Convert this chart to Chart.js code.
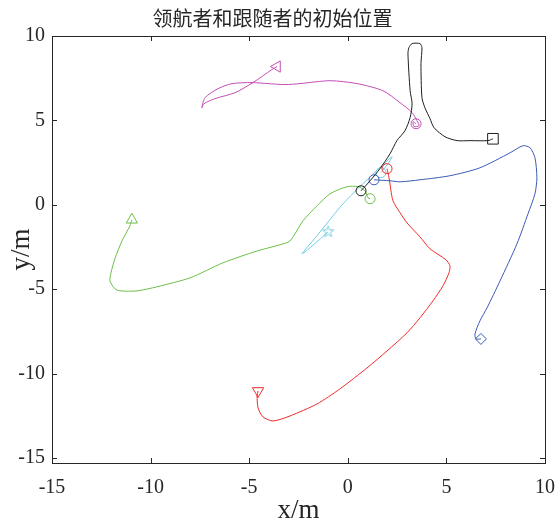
<!DOCTYPE html>
<html lang="zh">
<head>
  <meta charset="UTF-8">
  <title>领航者和跟随者的初始位置</title>
  <script src="https://cdn.jsdelivr.net/npm/chart.js"></script>
  <style>
    body { margin: 0; background: #fff; }
    canvas { display: block; }
  </style>
</head>
<body>
  <canvas id="trackChart" width="560" height="522"></canvas>
  <script>
    // axis ticks
    const xTicks = [-15, -10, -5, 0, 5, 10];
    const yTicks = [-15, -10, -5, 0, 5, 10];

    // trajectories, first point = start marker, last point = circle
    const pathBlack = [[7.36, 3.91], [7.11, 3.80], [6.20, 3.80], [5.54, 3.80], [4.93, 4.03], [4.37, 4.57],
      [4.17, 5.10], [3.91, 5.75], [3.76, 6.35], [3.71, 8.36], [3.76, 9.31], [3.66, 9.55], [3.26, 9.55],
      [3.10, 9.31], [3.05, 8.96], [3.16, 6.76], [3.26, 5.99], [3.16, 5.16], [2.90, 4.39], [2.49, 3.80],
      [2.14, 3.02], [1.63, 2.14], [1.13, 1.42], [0.67, 0.83]];
    const pathMagenta = [[-3.59, 8.19], [-3.85, 8.01], [-4.81, 7.24], [-5.72, 6.64], [-6.73, 6.29],
      [-7.29, 5.99], [-7.40, 5.75], [-7.24, 6.35], [-6.58, 6.88], [-5.87, 7.18], [-4.86, 7.24],
      [-4.05, 7.18], [-3.18, 7.12], [-2.42, 7.18], [-0.90, 7.35], [0.47, 7.18], [1.78, 6.76],
      [2.65, 6.05], [3.26, 5.46], [3.51, 4.98], [3.61, 4.69], [3.36, 4.63], [3.31, 4.92], [3.46, 4.80]];
    const pathBlue = [[6.75, -7.95], [6.50, -7.95], [6.45, -7.65], [6.70, -6.88], [7.06, -6.11],
      [7.72, -4.51], [8.58, -2.31], [9.14, -0.53], [9.49, 0.65], [9.59, 1.60], [9.49, 2.79],
      [9.24, 3.38], [8.88, 3.50], [8.23, 3.08], [6.70, 2.19], [5.18, 1.72], [3.66, 1.48],
      [2.65, 1.36], [2.14, 1.42], [1.33, 1.48]];
    const pathRed = [[-4.55, -11.03], [-4.60, -11.33], [-4.55, -12.04], [-4.30, -12.57], [-3.79, -12.81],
      [-2.93, -12.51], [-1.56, -11.80], [-0.40, -10.91], [0.97, -9.67], [1.99, -8.66], [3.00, -7.59],
      [3.66, -6.70], [4.32, -5.69], [4.83, -4.80], [5.13, -4.03], [5.18, -3.62], [4.98, -3.26],
      [4.17, -2.61], [3.66, -1.90], [3.00, -1.07], [2.65, -0.47], [2.29, 0.24], [2.09, 1.60], [1.99, 2.14]];
    const pathGreen = [[-10.95, -0.89], [-11.05, -1.25], [-11.45, -2.14], [-11.81, -3.20], [-12.01, -4.03],
      [-12.06, -4.51], [-11.81, -4.98], [-11.55, -5.10], [-10.69, -5.10], [-9.68, -4.86], [-8.00, -4.33],
      [-6.33, -3.44], [-4.58, -2.73], [-3.44, -2.37], [-2.93, -2.14], [-2.27, -0.95], [-1.56, -0.06],
      [-0.90, 0.65], [-0.04, 1.07], [0.52, 1.07], [0.87, 0.83], [1.02, 0.42], [1.13, 0.36]];
    const pathCyan = [[-1.00, -1.60], [-1.51, -2.14], [-2.32, -2.91], [-1.61, -1.90], [-0.24, 0.06],
      [0.87, 1.36], [2.24, 2.85], [2.04, 2.43], [1.68, 1.90]];

    function makePentagram(color) {
      const c = document.createElement('canvas');
      c.width = 15; c.height = 15;
      const g = c.getContext('2d');
      g.strokeStyle = color;
      g.lineWidth = 1;
      g.beginPath();
      for (let i = 0; i < 10; i++) {
        const r = i % 2 ? 2.4 : 6;
        const a = -Math.PI / 2 + i * Math.PI / 5;
        const px = 7.5 + r * Math.cos(a), py = 7.5 + r * Math.sin(a);
        if (i) g.lineTo(px, py); else g.moveTo(px, py);
      }
      g.closePath();
      g.stroke();
      return c;
    }

    const series = [
      { path: pathBlack, color: '#1f1f1f', start: 'rect', rot: 0, size: 7.5 },
      { path: pathMagenta, color: '#C24DB5', start: 'triangle', rot: -90, size: 6.5 },
      { path: pathBlue, color: '#3B5BB5', start: 'rectRot', rot: 0, size: 5.5 },
      { path: pathRed, color: '#F22A2A', start: 'triangle', rot: 180, size: 6.5 },
      { path: pathGreen, color: '#6CBF47', start: 'triangle', rot: 0, size: 6.5 },
      { path: pathCyan, color: '#6FCDE3', start: makePentagram('#6FCDE3'), rot: 0, size: 6 }
    ];

    // box and inward ticks like matlab
    const frame = {
      id: 'frame',
      afterDraw(chart) {
        const { ctx, chartArea: a, scales: { x, y } } = chart;
        ctx.save();
        ctx.strokeStyle = '#262626';
        ctx.lineWidth = 1;
        ctx.strokeRect(a.left + 0.5, a.top + 0.5, a.right - a.left, a.bottom - a.top);
        ctx.beginPath();
        x.ticks.forEach(t => {
          const px = Math.round(x.getPixelForValue(t.value)) + 0.5;
          ctx.moveTo(px, a.bottom); ctx.lineTo(px, a.bottom - 5);
          ctx.moveTo(px, a.top); ctx.lineTo(px, a.top + 5);
        });
        y.ticks.forEach(t => {
          const py = Math.round(y.getPixelForValue(t.value)) + 0.5;
          ctx.moveTo(a.left, py); ctx.lineTo(a.left + 5, py);
          ctx.moveTo(a.right, py); ctx.lineTo(a.right - 5, py);
        });
        ctx.stroke();
        ctx.restore();
      }
    };

    const tickFont = { family: 'Liberation Serif', size: 20 };
    const labelFont = { family: 'Liberation Serif', size: 27, lineHeight: '22px' };

    new Chart(document.getElementById('trackChart'), {
      type: 'scatter',
      data: {
        datasets: series.map(s => {
          const n = s.path.length;
          return {
            data: s.path.map(p => ({ x: p[0], y: p[1] })),
            showLine: true,
            tension: 0.25,
            borderColor: s.color,
            borderWidth: 1,
            pointBorderColor: s.color,
            pointBorderWidth: 1,
            pointBackgroundColor: 'rgba(0,0,0,0)',
            pointRadius: ctx => (ctx.dataIndex === 0 ? s.size : ctx.dataIndex === n - 1 ? 5 : 0),
            pointStyle: ctx => (ctx.dataIndex === 0 ? s.start : 'circle'),
            pointRotation: ctx => (ctx.dataIndex === 0 ? s.rot : 0)
          };
        })
      },
      options: {
        responsive: false,
        animation: false,
        layout: { padding: { top: 0, right: 15, bottom: 0, left: 0 } },
        plugins: {
          legend: { display: false },
          tooltip: { enabled: false },
          title: {
            display: true,
            text: '领航者和跟随者的初始位置',
            color: '#262626',
            font: { family: 'Noto Sans CJK SC', size: 20, weight: 'normal' },
            padding: { top: 6, bottom: 6 }
          }
        },
        scales: {
          x: {
            type: 'linear',
            min: -15,
            max: 10,
            afterBuildTicks: s => { s.ticks = xTicks.map(v => ({ value: v })); },
            afterFit: s => { s.height = 59; s.paddingLeft = 0; s.paddingRight = 0; },
            grid: { display: false, drawTicks: false },
            border: { display: false },
            ticks: { font: tickFont, color: '#262626', padding: 13, maxRotation: 0, autoSkip: false },
            title: { display: true, text: 'x/m', color: '#262626', font: labelFont, padding: { top: 0, bottom: 0 } }
          },
          y: {
            type: 'linear',
            min: -15.3,
            max: 10,
            afterBuildTicks: s => { s.ticks = yTicks.map(v => ({ value: v })); },
            afterFit: s => { s.width = 52; s.paddingTop = 0; s.paddingBottom = 0; },
            grid: { display: false, drawTicks: false },
            border: { display: false },
            ticks: { font: tickFont, color: '#262626', padding: 7, autoSkip: false },
            title: { display: true, text: 'y/m', color: '#262626', font: labelFont, padding: { top: 11, bottom: 0 } }
          }
        }
      },
      plugins: [frame]
    });
  </script>
</body>
</html>
